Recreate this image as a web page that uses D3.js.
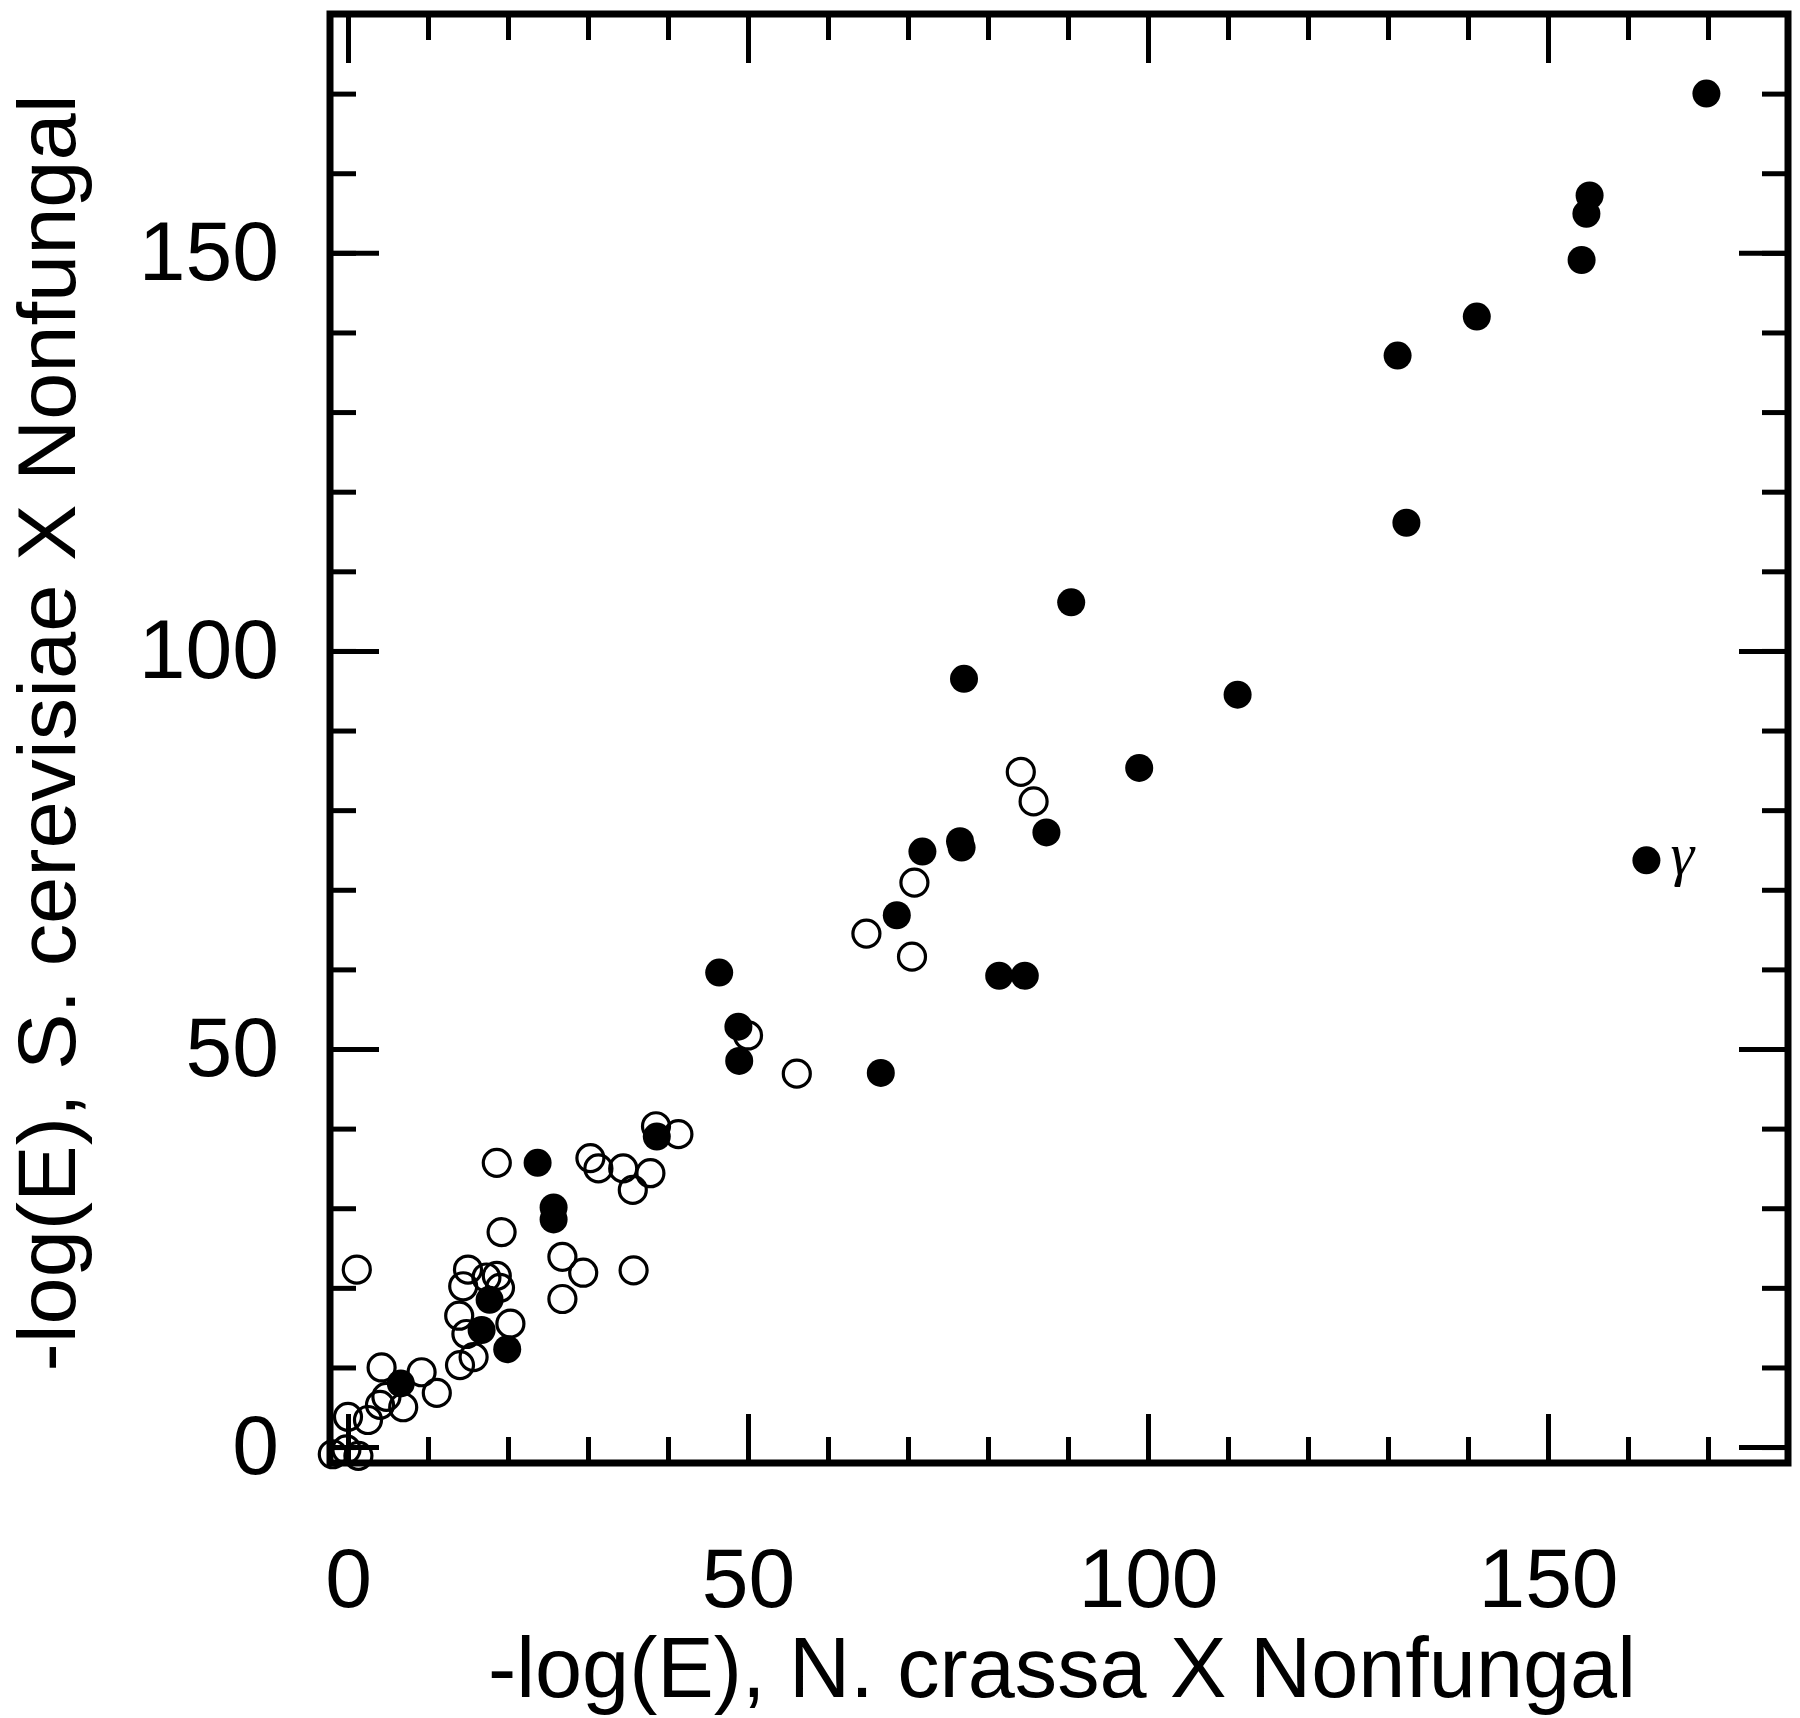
<!DOCTYPE html>
<html>
<head>
<meta charset="utf-8">
<script src="https://cdn.jsdelivr.net/npm/d3@7"></script>
<style>
  body { margin: 0; background: #fff; }
  svg { display: block; }
</style>
</head>
<body>
<div class="container"></div>
<script>
const width = 1800;
const height = 1718;
const margin = { left: 330, right: 12, top: 14, bottom: 255 };

const xTitle = '-log(E), N. crassa X Nonfungal';
const yTitle = '-log(E), S. cerevisiae X Nonfungal';
const majorTicks = [0, 50, 100, 150];
const minorTicks = [0, 10, 20, 30, 40, 50, 60, 70, 80, 90, 100, 110, 120, 130, 140, 150, 160, 170];

// [N. crassa score, S. cerevisiae score]
const openPoints = [
    [-1.9, -0.9], [-0.2, -0.3], [1.3, -1.1], [0.0, 3.8], [2.5, 3.4],
    [4.0, 5.3], [4.8, 6.3], [6.9, 5.0], [4.2, 10.0], [9.2, 9.4],
    [11.1, 6.8], [1.1, 22.3], [14.0, 10.3], [15.7, 11.3], [13.9, 16.5],
    [14.8, 14.2], [20.3, 15.5], [15.0, 22.3], [14.4, 20.2], [17.3, 21.3],
    [18.6, 21.5], [19.0, 20.0], [18.6, 35.7], [19.2, 27.0], [26.8, 23.9],
    [29.4, 21.9], [26.8, 18.6], [35.7, 22.2], [30.3, 36.3], [31.3, 35.0],
    [34.4, 35.0], [37.8, 34.4], [35.6, 32.3], [38.5, 40.3], [41.3, 39.3],
    [50.0, 51.7], [56.1, 46.9], [64.8, 64.5], [70.5, 61.6], [70.8, 70.9],
    [84.1, 84.8], [85.7, 81.1],
];
const filledPoints = [
    [6.6, 8.0], [16.7, 14.7], [19.9, 12.3], [17.7, 18.5], [23.7, 35.7],
    [25.7, 30.1], [25.7, 28.6], [38.6, 39.0], [46.4, 59.6], [48.8, 52.8],
    [48.9, 48.5], [66.6, 47.0], [68.6, 66.8], [71.8, 74.8], [76.5, 76.1],
    [76.7, 75.3], [81.4, 59.2], [84.6, 59.2], [87.3, 77.2], [77.0, 96.5],
    [98.9, 85.3], [90.4, 106.1], [111.2, 94.5], [131.2, 137.1], [132.3, 116.1],
    [141.1, 142.0], [154.2, 149.1], [154.8, 154.9], [155.2, 157.2], [169.8, 170.0],
    [162.3, 73.7],
];
// the outlier that gets a label
const pointLabel = { index: 30, text: 'γ' };

const font = '"Liberation Sans", Arial, Helvetica, sans-serif';

const x = d3.scaleLinear().domain([-2.25, 180]).range([margin.left, width - margin.right]);
const y = d3.scaleLinear().domain([-2, 180]).range([height - margin.bottom, margin.top]);

const svg = d3.select('.container')
    .append('svg')
    .attr('width', width)
    .attr('height', height)
    .style('background', '#fff');

function drawTicks(axis, translate, values, size, padding, labelled) {
    const g = svg.append('g')
        .attr('transform', `translate(${translate[0]},${translate[1]})`)
        .call(axis
            .tickValues(values)
            .tickSizeInner(-size)
            .tickSizeOuter(0)
            .tickPadding(padding)
            .tickFormat(labelled ? d3.format('d') : ''));
    g.select('.domain').remove();
    g.selectAll('line').attr('stroke', '#000').attr('stroke-width', 5);
    g.attr('font-family', font).attr('font-size', 84);
    g.selectAll('text').attr('fill', '#000');
    return g;
}

const bottom = height - margin.bottom;
const right = width - margin.right;

// minor ticks on all four sides, pointing inward
drawTicks(d3.axisBottom(x), [0, bottom], minorTicks, 26, 0, false);
drawTicks(d3.axisTop(x), [0, margin.top], minorTicks, 26, 0, false);
drawTicks(d3.axisLeft(y), [margin.left, 0], minorTicks, 26, 0, false);
drawTicks(d3.axisRight(y), [right, 0], minorTicks, 26, 0, false);

// major ticks, labelled on bottom and left
drawTicks(d3.axisBottom(x), [0, bottom], majorTicks, 49, 84, true);
drawTicks(d3.axisTop(x), [0, margin.top], majorTicks, 49, 0, false);
drawTicks(d3.axisLeft(y), [margin.left, 0], majorTicks, 49, 51, true);
drawTicks(d3.axisRight(y), [right, 0], majorTicks, 49, 0, false);

svg.append('rect')
    .attr('x', margin.left)
    .attr('y', margin.top)
    .attr('width', right - margin.left)
    .attr('height', bottom - margin.top)
    .attr('fill', 'none')
    .attr('stroke', '#000')
    .attr('stroke-width', 7);

svg.append('g')
    .selectAll('circle')
    .data(openPoints)
    .enter()
    .append('circle')
    .attr('cx', d => x(d[0]))
    .attr('cy', d => y(d[1]))
    .attr('r', 13.5)
    .attr('fill', 'none')
    .attr('stroke', '#000')
    .attr('stroke-width', 3.2);

svg.append('g')
    .selectAll('circle')
    .data(filledPoints)
    .enter()
    .append('circle')
    .attr('cx', d => x(d[0]))
    .attr('cy', d => y(d[1]))
    .attr('r', 14)
    .attr('fill', '#000');

const labelled = filledPoints[pointLabel.index];
svg.append('text')
    .attr('x', x(labelled[0]) + 24)
    .attr('y', y(labelled[1]) + 14)
    .attr('font-family', '"Liberation Serif", "DejaVu Serif", serif')
    .attr('font-style', 'italic')
    .attr('font-size', 60)
    .text(pointLabel.text);

svg.append('text')
    .attr('x', 1062)
    .attr('y', 1697)
    .attr('text-anchor', 'middle')
    .attr('font-family', font)
    .attr('font-size', 85)
    .attr('textLength', 1148)
    .attr('lengthAdjust', 'spacingAndGlyphs')
    .text(xTitle);

svg.append('text')
    .attr('transform', 'translate(75,733) rotate(-90)')
    .attr('text-anchor', 'middle')
    .attr('font-family', font)
    .attr('font-size', 82)
    .attr('textLength', 1277)
    .attr('lengthAdjust', 'spacingAndGlyphs')
    .text(yTitle);
</script>
</body>
</html>
